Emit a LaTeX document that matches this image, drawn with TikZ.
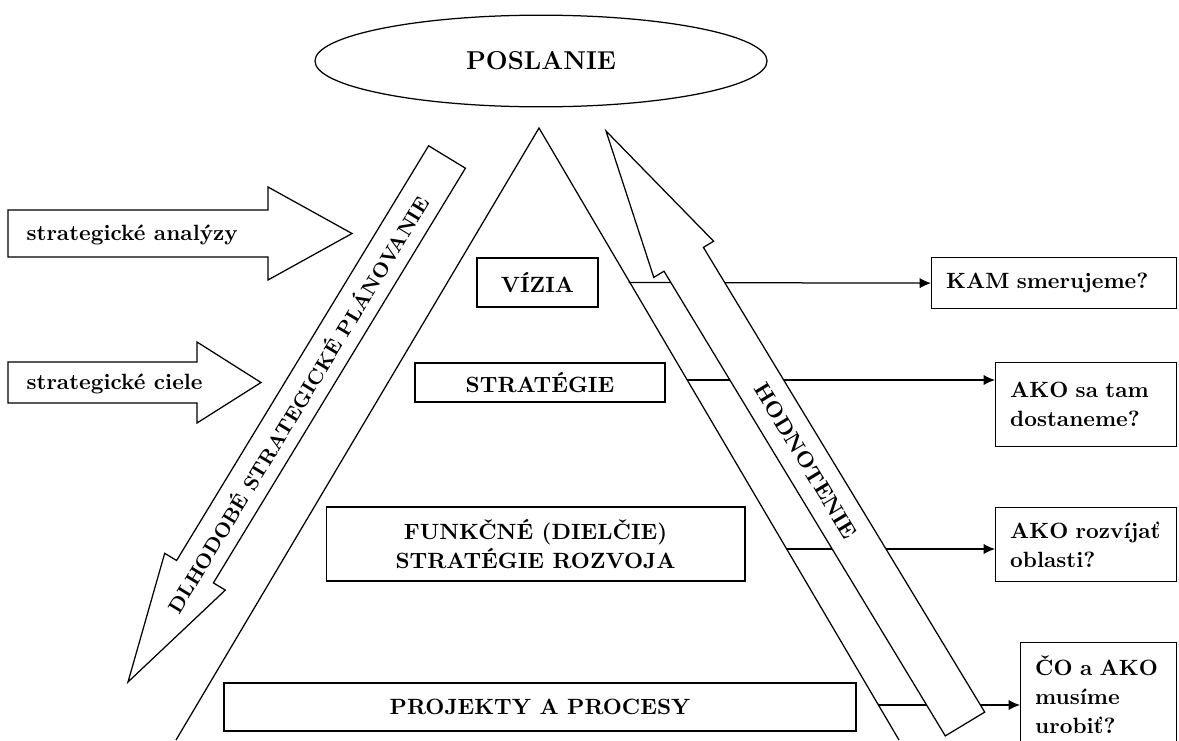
\documentclass[tikz,border=0pt]{standalone}
\usetikzlibrary{arrows.meta,shapes.geometric}

\begin{document}
\begin{tikzpicture}[x=0.48pt,y=-0.48pt,line width=0.6pt,
  every node/.style={font=\fontsize{10.6}{14}\selectfont\bfseries},
  tier/.style={draw,align=center,inner sep=0pt},
  answer/.style={draw,align=left,anchor=north west,inner xsep=7pt,inner ysep=0pt,
    execute at begin node={\hyphenpenalty=10000\relax}},
  link/.style={-{Latex[length=5.5pt,width=5pt]}},
  bigarrow/.style={draw,fill=white,line join=miter}]

\useasboundingbox (0,0) rectangle (1179,740);

% mission on top
\node[draw,ellipse,minimum width=217pt,minimum height=44pt,
  font=\fontsize{12.4}{15}\selectfont\bfseries] (mission) at (541,61) {POSLANIE};

% pyramid
\coordinate (top) at (539,128);
\coordinate (left) at (176,740);
\coordinate (right) at (899,740);
\draw (left) -- (top) -- (right);

% levels of the pyramid
\node[tier,minimum width=58pt,minimum height=23.5pt] (vizia) at (537.5,282.5) {VÍZIA};
\node[tier,minimum width=120pt,minimum height=18.7pt] (strat) at (540,382.5) {STRATÉGIE};
\node[tier,minimum width=201pt,minimum height=35.5pt] (funk) at (535.5,544) {FUNKČNÉ (DIELČIE)\\STRATÉGIE ROZVOJA};
\node[tier,minimum width=303.4pt,minimum height=23pt] (proj) at (540,707) {PROJEKTY A PROCESY};

% questions on the right
\node[answer,text width=103.6pt,minimum height=24.5pt] (kam) at (931,257) {KAM smerujeme?};
\node[answer,text width=72.9pt,minimum height=40.3pt] (ako1) at (995,362) {AKO sa tam\\dostaneme?};
\node[answer,text width=72.9pt,minimum height=35.5pt] (ako2) at (995,507) {AKO rozvíjať\\oblasti?};
\node[answer,text width=60.9pt,minimum height=50pt] (co) at (1020,642) {ČO a AKO\\musíme\\urobiť?};

% links from the pyramid side
\coordinate (c1) at (628.5,282.5);
\coordinate (c2) at (687,380);
\coordinate (c3) at (786,549);
\coordinate (c4) at (877.5,705);
\draw[link] (c1) -- (kam.west);
\draw[link] (c2) -- (c2 -| ako1.west);
\draw[link] (c3) -- (c3 -| ako2.west);
\draw[link] (c4) -- (c4 -| co.west);

% inputs
\draw[bigarrow] (8,210) -- (268,210) -- (268,187) -- (352,233.5) -- (268,280) -- (268,257) -- (8,257) -- cycle;
\node[anchor=base west,inner sep=0pt] (analyzy) at (26,240) {strategické analýzy};
\draw[bigarrow] (8,362) -- (197,362) -- (197,342) -- (261,382.5) -- (197,423) -- (197,403) -- (8,403) -- cycle;
\node[anchor=base west,inner sep=0pt] (ciele) at (26,389) {strategické ciele};

% planning goes down, evaluation goes up
\draw[bigarrow] (428.6,145.8) -- (465.4,168.2) -- (213.4,582.9) -- (225.3,590.1) -- (128,682)
  -- (164.7,553.3) -- (176.6,560.5) -- cycle;
\node[rotate=58.7,font=\fontsize{9.8}{12}\selectfont\bfseries] (plan) at (297,404) {DLHODOBÉ STRATEGICKÉ PLÁNOVANIE};
\draw[bigarrow] (945.3,735.9) -- (664,271.2) -- (653.8,277.4) -- (606,131) -- (713.6,241.2)
  -- (703.4,247.4) -- (984.7,712.1) -- cycle;
\node[rotate=-58.8] (eval) at (806,461) {HODNOTENIE};
\end{tikzpicture}
\end{document}
